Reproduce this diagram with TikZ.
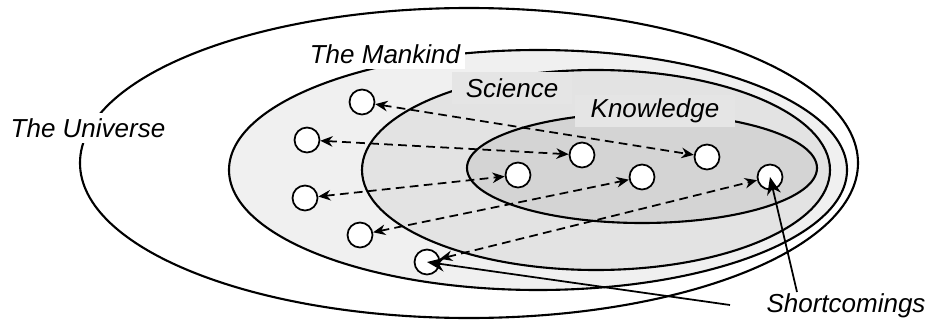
\documentclass[tikz,border=0pt]{standalone}
\usepackage{fontspec}
\setmainfont{Liberation Sans}
\definecolor{mankindgray}{gray}{0.94}
\definecolor{sciencegray}{gray}{0.89}
\definecolor{knowgray}{gray}{0.83}
\definecolor{labelgray}{gray}{0.90}
\usetikzlibrary{arrows.meta}

\begin{document}
\begin{tikzpicture}[x=0.02cm, y=-0.02cm,
  every node/.style={font=\fontsize{14.8}{17}\selectfont\itshape},
  rim/.style={draw, line width=1.2pt},
  dot/.style={draw, circle, fill=white, line width=1pt, minimum size=0.5cm, inner sep=0pt},
  tag/.style={fill=labelgray, minimum width=2.4cm, minimum height=0.66cm, inner sep=1pt},
  link/.style={arrows={Stealth[length=7pt,width=6pt]-Stealth[length=7pt,width=6pt]}, dash pattern=on 5pt off 3pt, line width=1pt},
  pointer/.style={arrows={-Stealth[length=10pt,width=8pt]}, line width=1pt}]
  \useasboundingbox (0,0) rectangle (927,321);

  % Nested regions
  \fill[white] (469,163) ellipse [x radius=389, y radius=155];
  \draw[rim] (469,163) ellipse [x radius=389, y radius=155];
  \draw[rim, fill=mankindgray] (538,170) ellipse [x radius=309, y radius=120];
  \draw[rim, fill=sciencegray] (596,170) ellipse [x radius=234, y radius=100];
  \draw[rim, fill=knowgray] (642,168) ellipse [x radius=175, y radius=55];

  % Region labels
  \node[fill=white, inner sep=3pt] (universe) at (88,128) {The Universe};
  \node[fill=white, inner sep=3pt] (mankind) at (385,54) {The Mankind};
  \node[tag] (science) at (512,88) {Science};
  \node[tag, minimum width=3.2cm] (knowledge) at (655,111) {Knowledge};

  % Items
  \node[dot] (c1) at (362,102) {};
  \node[dot] (c2) at (307,140) {};
  \node[dot] (c3) at (305,198) {};
  \node[dot] (c4) at (360,235) {};
  \node[dot] (c5) at (427,262) {};
  \node[dot] (c6) at (518,175) {};
  \node[dot] (c7) at (582,155) {};
  \node[dot] (c8) at (642,177) {};
  \node[dot] (c9) at (707,157) {};
  \node[dot] (c10) at (770,177) {};

  % Dashed links
  \draw[link] (c1) -- (c9);
  \draw[link] (c2) -- (c7);
  \draw[link] (c3) -- (c6);
  \draw[link] (c4) -- (c8);
  \draw[link] (c5) -- (c10);

  % Shortcomings
  \node (short) at (846,306) {Shortcomings};
  \coordinate (s1) at (797,292);
  \coordinate (s2) at (730,305);
  \draw[pointer] (s1) -- (c10.center);
  \draw[pointer] (s2) -- (c5.center);
\end{tikzpicture}
\end{document}
